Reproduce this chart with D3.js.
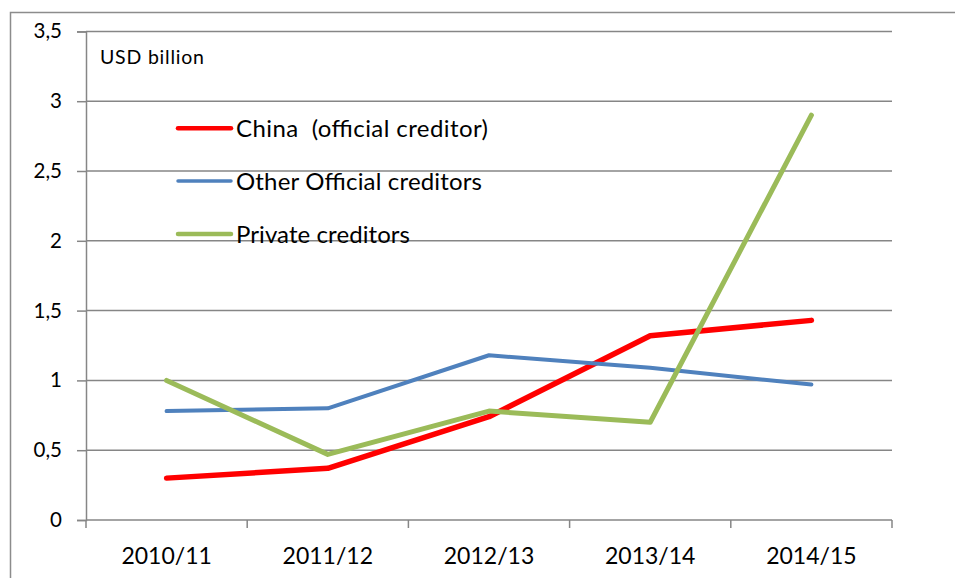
<!DOCTYPE html>
<html>
<head>
<meta charset="utf-8">
<script src="https://cdn.jsdelivr.net/npm/d3@7"></script>
<style>
  html, body { margin: 0; padding: 0; background: #fff; }
  svg { display: block; font-family: Lato, "Open Sans", sans-serif; }
</style>
</head>
<body>
<svg id="chart" width="955" height="578"></svg>
<script>
const categories = ["2010/11", "2011/12", "2012/13", "2013/14", "2014/15"];
const china = [0.30, 0.37, 0.74, 1.32, 1.43];
const otherOfficial = [0.78, 0.80, 1.18, 1.09, 0.97];
const privateCred = [1.00, 0.47, 0.78, 0.70, 2.90];
const seriesNames = ["China  (official creditor)", "Other Official creditors", "Private creditors"];
const yTicks = [0, 0.5, 1, 1.5, 2, 2.5, 3, 3.5];
const unitLabel = "USD billion";

const series = [
  { name: seriesNames[0], values: china, color: "#ff0000", width: 5.5, legendWidth: 4.5, textW: 252 },
  { name: seriesNames[1], values: otherOfficial, color: "#4f81bd", width: 4, legendWidth: 3.5, textW: 246 },
  { name: seriesNames[2], values: privateCred, color: "#9bbb59", width: 5, legendWidth: 4.5, textW: 174 }
];

const svg = d3.select("#chart");
const plotLeft = 86, plotRight = 892, plotTop = 31.4, plotBottom = 520;

const x = d3.scaleBand().domain(categories).range([plotLeft, plotRight]).padding(0);
const y = d3.scaleLinear().domain([0, 3.5]).range([plotBottom, plotTop]);
const fmt = v => String(v).replace(".", ",");
const gridColor = "#868686";

// outer frame
svg.append("path")
  .attr("d", `M10.5,578 L10.5,12.5 L955,12.5`)
  .attr("fill", "none").attr("stroke", "#8c8c8c").attr("stroke-width", 1.5);

// gridlines
svg.append("g").selectAll("line").data(yTicks.filter(d => d > 0)).join("line")
  .attr("x1", plotLeft).attr("x2", plotRight)
  .attr("y1", d => y(d)).attr("y2", d => y(d))
  .attr("stroke", gridColor).attr("stroke-width", 1.5);

// y axis
const yAxis = d3.axisLeft(y).tickValues(yTicks).tickFormat(fmt).tickSize(9).tickPadding(15);
const gy = svg.append("g").attr("transform", `translate(${plotLeft},0)`).call(yAxis);
gy.select(".domain").attr("stroke", gridColor).attr("stroke-width", 1.5);
gy.selectAll(".tick line").attr("stroke", gridColor).attr("stroke-width", 1.5);
gy.selectAll(".tick text").attr("font-size", 20.5).attr("fill", "#000")
  .attr("font-family", "Lato, 'Open Sans', sans-serif");

// x axis with ticks at band boundaries
const gx = svg.append("g").attr("transform", `translate(0,${plotBottom})`);
gx.append("line").attr("x1", plotLeft).attr("x2", plotRight).attr("y1", 0).attr("y2", 0)
  .attr("stroke", gridColor).attr("stroke-width", 1.5);
const boundaries = categories.map(c => x(c)).concat([x(categories[categories.length - 1]) + x.bandwidth()]);
gx.selectAll("line.tk").data(boundaries).join("line").attr("class", "tk")
  .attr("x1", d => d).attr("x2", d => d).attr("y1", 0).attr("y2", 8)
  .attr("stroke", gridColor).attr("stroke-width", 1.5);
gx.selectAll("text").data(categories).join("text")
  .attr("x", d => x(d) + x.bandwidth() / 2).attr("y", 44)
  .attr("text-anchor", "middle").attr("font-size", 23).attr("fill", "#000")
  .text(d => d);

// unit label
svg.append("text").attr("x", 100).attr("y", 64).attr("font-size", 19.5).attr("fill", "#000")
  .attr("textLength", 104).attr("lengthAdjust", "spacing").text(unitLabel);

// lines
const line = d3.line().x((d, i) => x(categories[i]) + x.bandwidth() / 2).y(d => y(d));
svg.append("g").selectAll("path").data(series).join("path")
  .attr("d", d => line(d.values))
  .attr("fill", "none").attr("stroke", d => d.color).attr("stroke-width", d => d.width)
  .attr("stroke-linecap", "round").attr("stroke-linejoin", "round");

// legend
const legendY = [128.3, 181, 234];
const lg = svg.append("g").selectAll("g").data(series).join("g")
  .attr("transform", (d, i) => `translate(0,${legendY[i]})`);
lg.append("line").attr("x1", 178).attr("x2", 231).attr("y1", 0).attr("y2", 0)
  .attr("stroke", d => d.color).attr("stroke-width", d => d.legendWidth).attr("stroke-linecap", "round");
lg.append("text").attr("x", 236).attr("y", 8.5).attr("font-size", 24).attr("fill", "#000")
  .attr("textLength", d => d.textW).attr("lengthAdjust", "spacing")
  .style("white-space", "pre").text(d => d.name);
</script>
</body>
</html>
